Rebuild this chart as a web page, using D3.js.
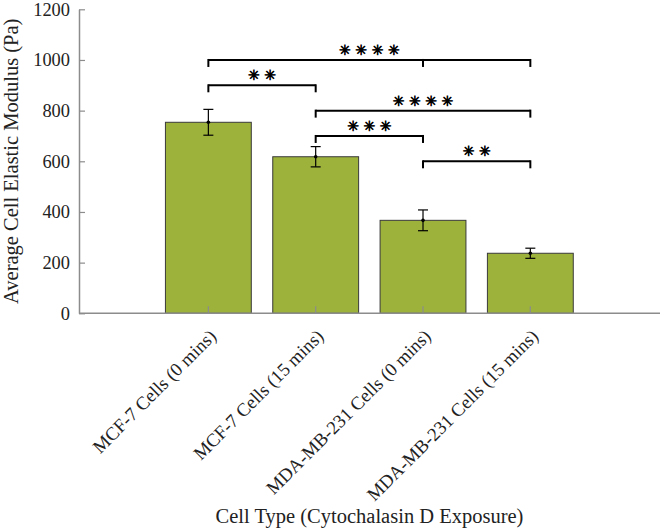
<!DOCTYPE html>
<html><head><meta charset="utf-8">
<script src="https://cdn.jsdelivr.net/npm/d3@7"></script>
<style>body{margin:0;background:#fff}svg{display:block}</style>
</head><body>
<svg id="c" width="660" height="528"></svg>
<script>
const categories = ["MCF-7 Cells (0 mins)", "MCF-7 Cells (15 mins)", "MDA-MB-231 Cells (0 mins)", "MDA-MB-231 Cells (15 mins)"];
const means = [754, 618, 367, 237];
const errors = [51, 40, 41, 20];
const yTicks = [0, 200, 400, 600, 800, 1000, 1200];
const bracketTicks = [[0, 2, 3], [0, 1], [1, 3], [1, 2], [2, 3]];
const bracketLevels = [1000, 900, 800, 700, 600];
const bracketLabels = ["****", "**", "****", "***", "**"];
const xTitle = "Cell Type (Cytochalasin D Exposure)";
const yTitle = "Average Cell Elastic Modulus (Pa)";

const svg = d3.select("#c");
const font = "'Liberation Serif','Times New Roman',serif";
const y = d3.scaleLinear().domain([0, 1200]).range([313.3, 9.3]);
const x = d3.scaleBand().domain(categories).range([154.7, 584]).paddingInner(0.2).paddingOuter(0.1);
const cx = d => x(d) + x.bandwidth() / 2;
const x0 = 79, x1 = 660;

// bars
svg.append("g").selectAll("rect").data(categories).join("rect")
  .attr("x", d => x(d)).attr("width", x.bandwidth())
  .attr("y", (d, i) => y(means[i])).attr("height", (d, i) => y(0) - y(means[i]))
  .attr("fill", "#9cb23a").attr("stroke", "#3a3a3a").attr("stroke-width", 1);

// axes
const yAxis = d3.axisLeft(y).tickValues(yTicks).tickFormat(d3.format("d")).tickSizeInner(-6).tickSizeOuter(0).tickPadding(9);
const gy = svg.append("g").attr("transform", `translate(${x0},0)`).call(yAxis);
gy.select(".domain").attr("stroke", "#8c8c8c").attr("stroke-width", 1.5);
gy.selectAll(".tick line").attr("stroke", "#8c8c8c").attr("stroke-width", 1.2);
gy.selectAll(".tick text").attr("font-family", font).attr("font-size", 18.4).attr("fill", "#222");

const xAxis = d3.axisBottom(x).tickSizeInner(-7).tickSizeOuter(0).tickFormat("");
const gx = svg.append("g").attr("transform", `translate(0,${y(0)})`).call(xAxis);
gx.select(".domain").remove();
gx.selectAll(".tick line").attr("stroke", "#8c8c8c").attr("stroke-width", 1.2);
svg.append("line").attr("x1", x0).attr("x2", x1).attr("y1", y(0)).attr("y2", y(0))
  .attr("stroke", "#8c8c8c").attr("stroke-width", 1.5);

// x labels
svg.append("g").selectAll("text").data(categories).join("text")
  .attr("transform", d => `translate(${cx(d) + 9},${y(0) + 24}) rotate(-45)`)
  .attr("text-anchor", "end").attr("font-family", font).attr("font-size", 18.7).attr("fill", "#222")
  .text(d => d);

// error bars
const eb = svg.append("g").attr("stroke", "#000").attr("stroke-width", 1.2);
categories.forEach((c, i) => {
  const px = cx(c);
  eb.append("line").attr("x1", px).attr("x2", px).attr("y1", y(means[i] + errors[i])).attr("y2", y(means[i] - errors[i]));
  [means[i] + errors[i], means[i] - errors[i]].forEach(v => {
    eb.append("line").attr("x1", px - 5).attr("x2", px + 5).attr("y1", y(v)).attr("y2", y(v));
  });
  svg.append("circle").attr("cx", px).attr("cy", y(means[i])).attr("r", 1.8).attr("fill", "#000");
});

// significance brackets
const br = svg.append("g");
bracketTicks.forEach((t, k) => {
  const ly = y(bracketLevels[k]);
  const xs = t.map(i => cx(categories[i]));
  const xa = d3.min(xs), xb = d3.max(xs);
  br.append("line").attr("x1", xa).attr("x2", xb).attr("y1", ly).attr("y2", ly)
    .attr("stroke", "#000").attr("stroke-width", 2);
  xs.forEach(px => br.append("line").attr("x1", px).attr("x2", px).attr("y1", ly - 1).attr("y2", ly + 7)
    .attr("stroke", "#000").attr("stroke-width", 2));
  const stars = bracketLabels[k].split("");
  const mid = (xa + xb) / 2, pitch = 16.3;
  stars.forEach((s, j) => {
    br.append("text").attr("x", mid + (j - (stars.length - 1) / 2) * pitch).attr("y", ly - 10)
      .attr("text-anchor", "middle").attr("dominant-baseline", "central")
      .attr("font-family", "'DejaVu Sans',sans-serif").attr("font-size", 14)
      .attr("fill", "#000").attr("stroke", "#000").attr("stroke-width", 0.7)
      .text(s === "*" ? "✳" : s);
  });
});

// titles
svg.append("text").attr("x", (x0 + x1) / 2).attr("y", 522.5).attr("text-anchor", "middle")
  .attr("font-family", font).attr("font-size", 20.5).attr("fill", "#222").text(xTitle);
svg.append("text").attr("transform", `translate(18,${(y(0) + y(1200)) / 2}) rotate(-90)`)
  .attr("text-anchor", "middle").attr("font-family", font).attr("font-size", 20.5).attr("fill", "#222").text(yTitle);
</script>
</body></html>
